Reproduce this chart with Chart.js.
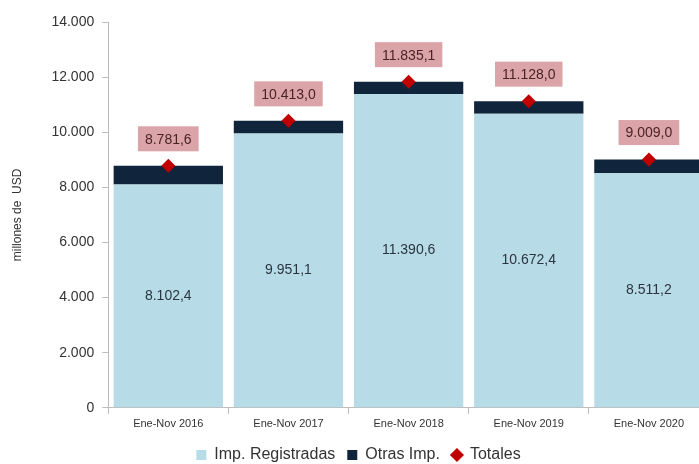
<!DOCTYPE html>
<html>
<head>
<meta charset="utf-8">
<script src="https://cdn.jsdelivr.net/npm/chart.js@4.4.1/dist/chart.umd.min.js"></script>
<style>
    html, body { margin: 0; padding: 0; background: #fff; overflow: hidden; }
    #wrap { width: 716px; height: 464px; }
</style>
</head>
<body>
<div id="wrap"><canvas id="impChart"></canvas></div>
<script>
const categories = ["Ene-Nov 2016", "Ene-Nov 2017", "Ene-Nov 2018", "Ene-Nov 2019", "Ene-Nov 2020"];
const registradas = [8102.4, 9951.1, 11390.6, 10672.4, 8511.2];
const otras = [679.2, 461.9, 444.5, 455.6, 497.8];
const totales = [8781.6, 10413.0, 11835.1, 11128.0, 9009.0];

const FONT = "'Liberation Sans', Arial, sans-serif";
const fmt1 = (v) => v.toLocaleString("de-DE", { minimumFractionDigits: 1, maximumFractionDigits: 1 });

const labelPlugin = {
    id: "valueLabels",
    afterDatasetsDraw(chart) {
        const ctx = chart.ctx;
        ctx.save();
        ctx.textAlign = "center";
        ctx.textBaseline = "middle";
        ctx.font = "14px " + FONT;

        // labels inside the light bars
        chart.getDatasetMeta(0).data.forEach((bar, i) => {
            const mid = (bar.y + bar.base) / 2;
            ctx.fillStyle = "#2b3440";
            ctx.fillText(fmt1(registradas[i]), bar.x, mid);
        });

        // total boxes above diamonds
        chart.getDatasetMeta(2).data.forEach((pt, i) => {
            const txt = fmt1(totales[i]);
            const w = ctx.measureText(txt).width + 14;
            const h = 25;
            const cy = pt.y - 27;
            ctx.fillStyle = "#dba4a8";
            ctx.fillRect(pt.x - w / 2, cy - h / 2, w, h);
            ctx.fillStyle = "#4a2326";
            ctx.fillText(txt, pt.x, cy + 1);
        });
        ctx.restore();
    },
};

new Chart(document.getElementById("impChart"), {
    type: "bar",
    data: {
        labels: categories,
        datasets: [
            {
                label: "Imp. Registradas",
                data: registradas,
                backgroundColor: "#b7dce7",
                pointStyle: "rect",
                stack: "s",
                order: 2,
            },
            {
                label: "Otras Imp.",
                data: otras,
                backgroundColor: "#10253b",
                pointStyle: "rect",
                stack: "s",
                order: 2,
            },
            {
                type: "line",
                label: "Totales",
                data: totales,
                showLine: false,
                pointStyle: "rectRot",
                pointRadius: 7,
                pointHoverRadius: 7,
                backgroundColor: "#c00000",
                borderColor: "#c00000",
                borderWidth: 0,
                order: 1,
            },
        ],
    },
    options: {
        responsive: true,
        maintainAspectRatio: false,
        animation: false,
        layout: { padding: { top: 22, right: 5, left: 6, bottom: -9 } },
        datasets: { bar: { barPercentage: 0.91, categoryPercentage: 1 } },
        plugins: {
            legend: {
                position: "bottom",
                labels: {
                    usePointStyle: true,
                    boxWidth: 10,
                    boxHeight: 10,
                    padding: 12,
                    color: "#333",
                    font: { size: 16, family: FONT },
                    sort: (a, b) => a.datasetIndex - b.datasetIndex,
                },
            },
            tooltip: { enabled: false },
        },
        scales: {
            x: {
                stacked: true,
                grid: { drawOnChartArea: false, offset: true, tickLength: 6, color: "#bdbdbd" },
                border: { color: "#bdbdbd" },
                ticks: { color: "#333", font: { size: 11, family: FONT }, maxRotation: 0, padding: 4 },
            },
            y: {
                stacked: true,
                min: 0,
                max: 14000,
                title: {
                    display: true,
                    text: "millones de  USD",
                    color: "#333",
                    font: { size: 12, family: FONT },
                    padding: { bottom: 19 },
                },
                grid: { drawOnChartArea: false, tickLength: 6, color: "#bdbdbd" },
                border: { color: "#bdbdbd" },
                ticks: {
                    stepSize: 2000,
                    color: "#333",
                    padding: 8,
                    font: { size: 14, family: FONT },
                    callback: (v) => v.toLocaleString("de-DE"),
                },
            },
        },
    },
    plugins: [labelPlugin],
});
</script>
</body>
</html>
